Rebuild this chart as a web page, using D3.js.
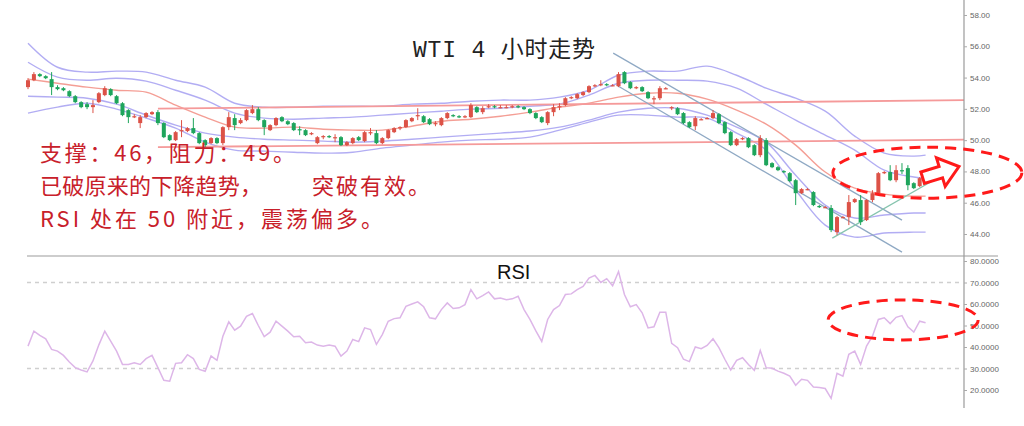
<!DOCTYPE html>
<html><head><meta charset="utf-8">
<script src="https://cdn.jsdelivr.net/npm/d3@7"></script>
<style>html,body{margin:0;padding:0;background:#fff;} svg{display:block}</style>
</head><body><svg id="c" width="1024" height="426"></svg>
<script>
// ---------- data ----------
const open = [
53.39,53.83,54.22,54.09,53.90,53.39,53.32,53.13,52.81,52.43,
52.30,52.11,52.43,52.88,53.26,52.81,52.36,51.92,51.47,51.09,
51.47,51.66,51.79,51.09,50.32,50.00,50.58,50.58,50.77,50.45,
50.00,49.81,50.13,49.81,50.83,51.41,51.09,51.28,51.73,51.98,
51.28,50.64,50.96,51.47,51.21,51.09,50.70,50.64,50.38,49.81,
50.19,50.26,50.19,50.19,49.68,49.81,50.19,49.94,50.51,50.45,
49.81,50.13,50.51,50.77,50.83,51.21,51.53,51.53,51.34,51.02,
50.96,51.41,51.60,51.53,51.47,51.47,52.11,51.79,52.11,52.17,
52.11,52.11,52.11,52.17,52.11,51.98,51.73,51.47,51.09,51.79,
52.11,52.24,52.68,52.68,52.88,53.07,53.45,53.51,53.58,53.51,
53.45,54.35,53.71,53.32,53.39,53.07,52.62,52.68,53.32,52.04,
52.04,51.73,51.15,50.89,51.34,51.41,51.41,51.66,51.15,50.51,
49.68,50.06,50.13,49.68,49.04,50.00,48.53,48.27,48.02,47.89,
47.44,46.61,46.87,46.68,45.79,45.72,45.66,44.12,45.08,45.08,
46.04,46.17,44.89,46.17,46.61,47.89,47.96,47.44,48.08,48.21,
47.25,47.06,47.83];
const close = [
53.83,54.22,54.09,53.96,53.39,53.26,53.19,52.81,52.43,52.11,
52.11,52.24,53.00,53.32,52.88,52.36,51.60,51.47,51.53,51.47,
51.73,51.79,51.09,50.19,50.00,50.51,50.64,50.77,50.45,49.81,
49.68,50.13,49.81,50.83,51.47,50.96,51.28,51.92,51.98,51.28,
50.83,50.96,51.41,51.21,51.02,50.64,50.64,50.32,50.45,50.19,
50.26,50.19,50.19,49.68,49.87,50.13,50.00,50.51,50.51,49.81,
50.13,50.64,50.77,50.83,51.28,51.41,51.60,51.15,51.02,51.09,
51.41,51.73,51.53,51.47,51.53,52.24,51.79,52.04,52.17,52.11,
52.11,52.11,52.17,52.11,51.98,51.73,51.41,51.15,51.79,52.11,
52.17,52.68,52.75,52.94,53.07,53.45,53.51,53.58,53.51,53.51,
54.22,53.64,53.32,53.39,53.13,52.68,52.68,53.32,53.32,52.11,
51.66,51.09,50.83,51.41,51.34,51.41,51.73,51.09,50.45,49.68,
50.06,50.13,49.55,49.04,50.13,48.40,48.27,48.08,47.96,47.38,
46.61,46.87,46.87,45.85,45.72,45.72,44.25,45.08,45.08,46.04,
46.23,44.76,46.17,46.61,47.89,47.96,47.44,48.08,48.02,47.12,
46.93,47.57,47.76];
const high = [
53.96,54.35,54.28,54.15,54.35,53.51,53.39,53.19,52.88,52.49,
52.43,52.56,53.07,53.45,53.32,52.88,52.43,51.98,51.66,51.60,
51.79,51.85,51.92,51.15,50.38,50.58,51.28,50.83,51.41,50.51,
50.06,50.19,50.19,50.89,51.79,51.66,51.41,51.98,52.24,52.11,
51.34,51.02,51.47,51.53,51.28,51.15,50.89,50.70,50.51,50.26,
50.32,50.32,50.38,50.26,49.94,50.19,50.26,50.58,50.77,50.64,
50.19,50.70,50.83,50.89,51.34,51.47,52.04,51.60,51.41,51.21,
51.47,51.79,51.66,51.60,51.60,52.36,52.17,52.17,52.30,52.24,
52.24,52.24,52.24,52.24,52.17,52.04,51.79,51.53,51.85,52.30,
52.36,52.75,52.81,53.00,53.13,53.51,53.58,53.83,53.64,53.58,
54.35,54.41,53.77,53.45,53.45,53.13,52.81,53.45,53.39,52.17,
52.11,51.79,51.21,51.53,51.41,51.47,51.92,51.73,51.21,50.58,
50.13,50.19,50.19,49.74,50.32,50.13,48.59,48.34,48.08,47.96,
47.51,46.93,46.93,46.74,45.85,45.79,45.85,45.15,45.15,46.49,
46.29,46.49,46.23,46.80,47.96,48.02,48.40,48.40,48.53,48.40,
47.31,47.64,47.89];
const low = [
53.26,53.77,54.03,53.90,52.88,53.19,53.13,52.75,52.36,52.04,
51.98,51.73,52.36,52.81,52.81,52.30,51.53,51.09,51.41,50.77,
51.41,51.60,50.96,50.13,49.94,49.94,50.19,50.51,50.38,49.74,
49.55,49.74,49.74,49.68,50.64,50.64,51.02,51.21,51.66,51.21,
50.32,50.58,50.89,51.15,50.96,50.58,50.32,50.26,50.32,49.74,
50.06,50.13,49.87,49.62,49.62,49.74,49.94,49.87,50.32,49.74,
49.74,50.06,50.45,50.64,50.77,51.15,51.28,51.09,50.96,50.89,
50.89,51.34,51.47,51.41,51.41,51.41,51.73,51.66,52.04,52.04,
52.04,52.04,52.04,52.04,51.92,51.66,51.34,51.09,50.96,51.53,
51.92,52.17,52.62,52.62,52.81,53.00,53.39,53.45,53.45,53.45,
53.39,53.58,53.26,53.26,53.07,52.62,52.30,52.56,53.26,51.92,
51.60,51.02,50.77,50.64,51.28,51.34,51.34,51.02,50.38,49.62,
49.62,50.00,49.49,48.98,48.91,48.34,48.21,48.02,47.89,47.31,
45.85,46.55,46.80,45.78,45.66,45.66,44.12,43.93,45.02,44.57,
45.98,44.57,44.83,46.04,46.55,47.83,47.38,47.31,47.83,46.80,
46.87,47.00,47.70];

// bands sampled every 5 bars (bar index)
const bandIdx = [0,5,10,15,20,25,30,35,40,45,50,55,60,65,70,75,80,85,90,95,100,105,110,115,120,125,130,135,140,145,150,152];
const upper2 = [56.20,54.66,54.35,54.41,54.35,53.83,53.39,52.36,52.11,52.11,52.17,52.17,52.17,52.30,52.36,52.49,52.56,52.56,52.75,53.19,54.15,54.41,54.41,54.73,54.15,53.32,52.68,51.85,50.26,49.17,48.98,49.04];
const upper1 = [54.98,54.03,53.83,53.96,53.77,53.19,52.56,51.73,51.41,51.34,51.41,51.47,51.60,51.73,51.85,51.98,52.04,52.17,52.30,52.88,53.64,53.83,53.83,53.77,53.32,52.30,51.28,50.32,49.36,48.08,47.64,47.57];
const midMA  = [53.90,53.64,53.39,53.19,53.07,52.24,51.47,50.83,50.77,50.83,50.70,50.64,50.64,50.89,51.21,51.34,51.53,51.79,52.11,52.36,52.75,53.00,53.00,52.62,51.92,51.02,49.68,47.96,46.93,46.55,46.42,46.42];
const lower1 = [52.81,52.75,52.68,52.30,51.60,50.96,50.45,50.19,50.06,50.00,49.94,49.87,49.94,50.06,50.19,50.32,50.45,50.58,50.83,51.28,51.79,52.04,52.04,51.60,50.83,49.87,47.76,45.85,45.02,45.21,45.34,45.34];
const lower2 = [51.73,52.11,52.36,51.98,51.41,50.77,49.87,49.36,49.30,49.23,49.17,49.23,49.49,49.68,49.87,50.00,50.06,50.19,50.64,51.15,51.60,51.60,51.47,51.41,50.45,49.36,46.81,44.57,43.80,44.06,44.12,44.12];

const rsi = [40.4,47.4,45.4,43.8,38.9,38.1,36.1,33.0,30.4,29.3,
28.4,33.5,41.0,47.4,42.7,38.1,31.9,31.9,32.7,31.9,
34.6,36.1,30.4,24.5,24.1,32.4,32.7,36.4,34.6,29.6,
28.7,35.8,33.8,45.0,51.7,47.8,49.7,54.3,55.6,50.0,
44.8,46.9,52.0,49.7,47.4,44.8,45.0,42.0,42.3,40.9,
40.4,40.9,40.4,35.8,38.1,43.5,42.5,48.9,48.1,41.2,
45.8,52.0,53.2,53.6,58.9,60.0,61.0,58.7,53.6,53.1,
57.4,60.5,57.9,58.2,59.7,66.7,62.4,63.9,65.6,62.4,
62.8,62.0,62.4,63.6,57.4,52.8,47.5,42.6,52.8,57.4,
59.3,64.4,64.7,66.7,68.2,72.1,73.3,70.0,71.8,68.5,
75.1,64.4,58.7,59.7,55.9,48.9,49.4,56.2,56.2,41.7,
39.7,34.3,33.2,40.0,39.2,40.7,43.8,39.7,34.3,29.3,
33.8,35.0,31.9,29.2,38.4,30.4,30.1,28.8,27.8,26.5,
22.2,25.0,24.5,21.4,21.2,20.7,16.1,27.8,26.4,36.6,
38.1,31.9,40.4,45.0,52.8,53.6,50.9,53.8,54.6,49.4,
46.9,52.0,51.3];

const priceTicks = [44,46,48,50,52,54,56,58];
const rsiTicks = [20,30,40,50,60,70,80];
const rsiGuides = [30,70];

// trend lines: [barIndex, price]
const resistanceLine = [[22,52.01],[158.5,52.56]];
const supportLine = [[22,49.55],[158.5,50.03]];
const channelUpper = [[99.1,55.56],[148,44.89]];
const channelLower = [[99.7,53.51],[148,42.84]];
const risingLine = [[136.2,43.74],[155.8,47.96]];

const title = "WTI 4 小时走势";
const note1 = "支撑：46，阻力：49。";
const note2a = "已破原来的下降趋势，";
const note2b = "突破有效。";
const note3 = "RSI 处在 50 附近，震荡偏多。";

// ---------- drawing ----------
const svg = d3.select("#c");
const N = close.length;
const x = d3.scaleLinear().domain([0, N-1]).range([28, 925.6]);
const y = d3.scaleLinear().domain([44, 58]).range([234, 15]);
const yR = d3.scaleLinear().domain([20, 80]).range([390, 261]);
const axisX = 964;

// RSI guides
svg.selectAll(".guide").data(rsiGuides).enter().append("line")
  .attr("x1", 27).attr("x2", axisX-2)
  .attr("y1", d=>yR(d)).attr("y2", d=>yR(d))
  .attr("stroke", "#cfcfcf").attr("stroke-width", 1.3).attr("stroke-dasharray", "4,4");

// separator
svg.append("line").attr("x1",27).attr("x2",998).attr("y1",256).attr("y2",256)
  .attr("stroke","#bdbdbd").attr("stroke-width",1.5);

// bands
const bl = d3.line().x(d=>x(d[0])).y(d=>y(d[1])).curve(d3.curveCatmullRom.alpha(0.5));
function band(vals, color, w) {
  svg.append("path").attr("d", bl(bandIdx.map((b,i)=>[b, vals[i]])))
    .attr("fill","none").attr("stroke",color).attr("stroke-width",w).attr("opacity",0.9);
}
band(upper2, "#aaa4f2", 1.4);
band(upper1, "#aaa4f2", 1.4);
band(lower1, "#aaa4f2", 1.4);
band(lower2, "#aaa4f2", 1.4);
band(midMA, "#f3948a", 1.4);

// trend lines
const tl = d3.line().x(d=>x(d[0])).y(d=>y(d[1]));
[[resistanceLine,"#f59a9a",1.8],[supportLine,"#f59a9a",1.8],
 [channelUpper,"#8fa9c4",1.3],[channelLower,"#8fa9c4",1.3],[risingLine,"#86c4ae",1.3]]
 .forEach(([d,c,w])=>svg.append("path").attr("d",tl(d)).attr("fill","none").attr("stroke",c).attr("stroke-width",w));

// candles
const up = "#dc5247", dn = "#1ea55c";
const g = svg.append("g");
d3.range(N).forEach(i=>{
  const col = close[i] >= open[i] ? up : dn;
  const cx = x(i);
  g.append("line").attr("x1",cx).attr("x2",cx).attr("y1",y(high[i])).attr("y2",y(low[i]))
    .attr("stroke",col).attr("stroke-width",1);
  const top = y(Math.max(open[i],close[i])), bot = y(Math.min(open[i],close[i]));
  g.append("rect").attr("x",cx-2).attr("width",4).attr("y",top).attr("height",Math.max(1.2,bot-top))
    .attr("fill",col);
});

// RSI line
svg.append("path").attr("d", d3.line().x((d,i)=>x(i)).y(d=>yR(d))(rsi))
  .attr("fill","none").attr("stroke","#ddb6e8").attr("stroke-width",1.5);

// axes
svg.append("line").attr("x1",axisX).attr("x2",axisX).attr("y1",0).attr("y2",408)
  .attr("stroke","#9a9a9a").attr("stroke-width",1.2);
const ya = svg.append("g").attr("transform",`translate(${axisX},0)`)
  .call(d3.axisRight(y).tickValues(priceTicks).tickFormat(d3.format(".2f")).tickSize(3));
const yb = svg.append("g").attr("transform",`translate(${axisX},0)`)
  .call(d3.axisRight(yR).tickValues(rsiTicks).tickFormat(d3.format(".4f")).tickSize(3));
[ya,yb].forEach(a=>{
  a.select(".domain").remove();
  a.selectAll("line").attr("stroke","#aaa");
  a.selectAll("text").attr("fill","#666").style("font","8px 'Liberation Sans', Arial, sans-serif").attr("x",6);
});

// annotations: ellipses & arrow
const ell = (cxI, cyV, rxI, ryV, ys) => ({cx:x(cxI), cy:ys(cyV), rx:x(cxI+rxI)-x(cxI), ry:Math.abs(ys(cyV+ryV)-ys(cyV))});
const e1 = ell(152.3, 47.92, 16.0, 1.63, y);
svg.append("ellipse").attr("cx",e1.cx).attr("cy",e1.cy).attr("rx",e1.rx).attr("ry",e1.ry)
  .attr("fill","none").attr("stroke","#ff1a1a").attr("stroke-width",3).attr("stroke-dasharray","11,7");
const e2 = ell(148.2, 52.6, 12.7, 9.3, yR);
svg.append("ellipse").attr("cx",e2.cx).attr("cy",e2.cy).attr("rx",e2.rx).attr("ry",e2.ry)
  .attr("fill","none").attr("stroke","#ff1a1a").attr("stroke-width",3).attr("stroke-dasharray","11,7");

const arrowAt = [151.5, 47.6];
svg.append("path")
  .attr("d","M0,-6 L19,-6 L19,-15 L38,0 L19,15 L19,6 L0,6 Z")
  .attr("transform",`translate(${x(arrowAt[0])},${y(arrowAt[1])}) rotate(-17)`)
  .attr("fill","#fff").attr("stroke","#ff1a1a").attr("stroke-width",3).attr("stroke-linejoin","miter");

// texts
svg.append("text").attr("x",413).attr("y",57).text(title)
  .attr("textLength",182).attr("lengthAdjust","spacing")
  .style("font","23px 'Liberation Mono', 'Noto Sans CJK SC', monospace").attr("fill","#222");
svg.append("text").attr("x",497).attr("y",279).text("RSI")
  .style("font","20px 'Liberation Sans', Arial, sans-serif").attr("fill","#111");

const red = "#c8202a";
const tf = "22px 'Noto Sans CJK SC', sans-serif";
svg.append("text").attr("x",40).attr("y",161).text(note1).attr("textLength",255).attr("lengthAdjust","spacing")
  .style("font",tf).attr("fill",red);
svg.append("text").attr("x",40).attr("y",194).text(note2a).attr("textLength",222).attr("lengthAdjust","spacing")
  .style("font",tf).attr("fill",red);
svg.append("text").attr("x",312).attr("y",194).text(note2b).attr("textLength",118).attr("lengthAdjust","spacing")
  .style("font",tf).attr("fill",red);
svg.append("text").attr("x",40).attr("y",227).text(note3).attr("textLength",343).attr("lengthAdjust","spacing")
  .style("font",tf).attr("fill",red);
</script></body></html>
